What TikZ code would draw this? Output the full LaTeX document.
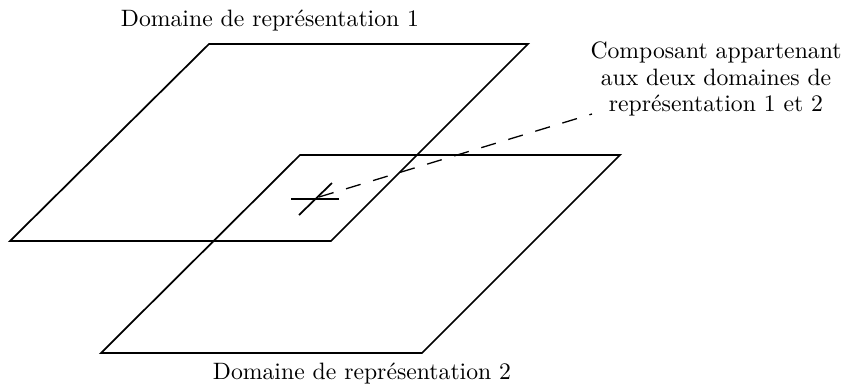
\documentclass[tikz,border=0pt]{standalone}
\begin{document}
\begin{tikzpicture}[x=0.46pt,y=-0.46pt,
  plane/.style={draw,line width=0.8pt,line join=miter},
  lbl/.style={inner sep=0pt,font=\fontsize{10.9}{12.2}\selectfont}]
\useasboundingbox (0,0) rectangle (843,388);
% plane 1
\coordinate (a1) at (209,44);
\coordinate (b1) at (528,44);
\coordinate (c1) at (331,241);
\coordinate (d1) at (10,241);
\draw[plane] (a1) -- (b1) -- (c1) -- (d1) -- cycle;
% plane 2
\coordinate (a2) at (300,155);
\coordinate (b2) at (620,155);
\coordinate (c2) at (422,353);
\coordinate (d2) at (101,353);
\draw[plane] (a2) -- (b2) -- (c2) -- (d2) -- cycle;
% cross
\coordinate (h1) at (291,199);
\coordinate (h2) at (339,199);
\coordinate (g1) at (299,215);
\coordinate (g2) at (332,183);
\draw[line width=1.2pt] (h1) -- (h2);
\draw[line width=0.8pt] (g1) -- (g2);
\coordinate (comp) at (319,197);
% labels
\node[lbl] (t1) at (270,21) {Domaine de représentation 1};
\node[lbl] (t2) at (362,374) {Domaine de représentation 2};
\node[lbl,align=center] (t3) at (716,79) {Composant appartenant\\aux deux domaines de\\représentation 1 et 2};
\coordinate (dend) at (592,114);
\draw[dashed,line width=0.6pt,dash pattern=on 7pt off 6pt] (comp) -- (dend);
\end{tikzpicture}
\end{document}
